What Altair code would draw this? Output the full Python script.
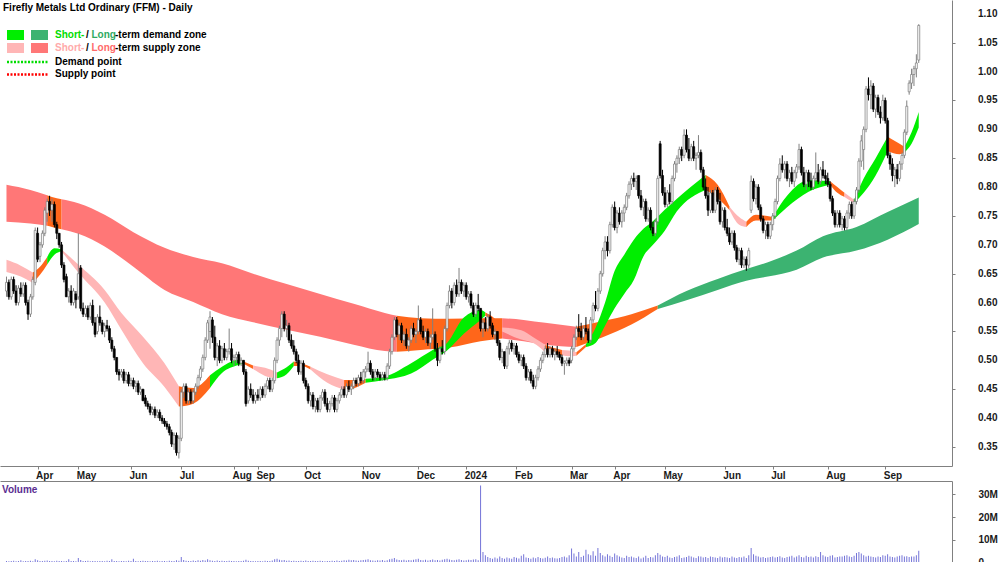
import altair as alt
import pandas as pd

# ---------------- price bars (cents) ----------------
OPEN = [
    62, 63.5, 61, 64, 62, 60, 62.5, 61.5, 63, 60,
    58, 61, 63.5, 72, 68, 70, 72, 75.5, 77.5, 76,
    77, 73.5, 72, 70, 66.5, 64.5, 61, 62, 60, 61.5,
    61, 66, 59, 58, 59, 57.5, 59.5, 56.5, 55, 57.5,
    56.5, 55, 56, 55.5, 53.5, 52, 50.5, 48, 47.5, 48,
    46.5, 47.5, 46, 46.5, 45.5, 46, 44.5, 45, 43.5, 42.5,
    42, 41, 41.5, 40.5, 41, 40, 39.5, 39, 38.5, 37.5,
    35.5, 37, 34, 36.5, 44.5, 45.5, 43, 44.5, 43, 44.5,
    45.5, 47, 48.5, 50.5, 53.5, 55, 57, 54, 50.5, 52.5,
    50, 52, 50.5, 51.5, 52, 50, 50.5, 51, 49.5, 50,
    48, 43, 45, 44, 43, 44, 43.5, 45, 44, 45.5,
    46.5, 45, 46.5, 50, 53.5, 55.5, 58, 55.5, 56, 53.5,
    52.5, 51.5, 50, 48, 49.5, 46.5, 45.5, 43, 44, 42,
    43, 41.5, 43.5, 44.5, 42.5, 41.5, 42.5, 43.5, 41.5, 43,
    44, 45, 44, 45.5, 45, 45.5, 46.5, 46, 47, 46.5,
    48, 48.5, 49.5, 48, 47, 48, 47.5, 47, 47.5, 47,
    49, 51.5, 54, 57, 54.5, 56, 53.5, 54.5, 52.5, 53.5,
    55.5, 54.5, 55, 57, 55, 54, 55, 53, 54, 54.5,
    52, 50, 52, 51.5, 55.5, 59.5, 62, 60, 63, 61.5,
    63.5, 62, 63, 61, 61.5, 59.5, 58, 59.5, 59, 55.5,
    56.5, 55.5, 57.5, 56, 54.5, 55, 53, 50.5, 51.5, 49,
    52, 53, 52, 52.5, 51, 50, 50.5, 49, 47, 48,
    46.5, 45.5, 47, 48.5, 50, 51, 52, 51, 52, 51,
    51.5, 51, 50.5, 49.5, 49.5, 50, 50, 52, 54, 55.5,
    55, 54, 55.5, 55, 53.5, 57, 59.5, 59, 62, 65,
    69, 70.5, 69, 73.5, 76.5, 73, 75.5, 74, 75.5, 76.5,
    78.5, 80.5, 81.5, 81, 82, 78.5, 76.5, 77.5, 74.5, 76,
    73, 72, 74, 87.5, 82, 79, 77, 79, 77.5, 81.5,
    84, 85, 86.5, 85.5, 89, 86.5, 85, 87, 85, 85.5,
    86, 83, 80, 78.5, 76, 79, 76, 79.5, 77.5, 74,
    76, 73, 72, 70.5, 72, 69.5, 67.5, 69, 66.5, 67.5,
    66.5, 76, 81, 78, 80, 76.5, 74.5, 72.5, 73.5, 71.5,
    73.5, 75, 77.5, 81.5, 84, 83, 84, 81.5, 82.5, 81,
    82.5, 83.5, 86.5, 82.5, 80.5, 82.5, 81, 80, 81.5, 82.5,
    81, 83, 82, 81.5, 80.5, 78, 75.5, 73.5, 75.5, 73.5,
    74.5, 73, 75.5, 77, 75, 77.5, 79.5, 84.5, 86.5, 90,
    97, 96, 97.5, 93.5, 95.5, 93, 92, 95, 91.5, 85.5,
    84, 82, 83, 81.5, 84, 85.5, 89.5, 96.5, 98, 99.5,
    100.5, 102,
]
HIGH = [
    64.5, 64, 64.5, 64.5, 63, 63, 63.5, 63.5, 63.5, 60.5,
    61.5, 64.5, 73, 73, 70.5, 72.5, 76.5, 78, 78.5, 78,
    77.5, 74, 72, 70.5, 67, 65, 62.5, 63, 62.5, 62,
    72, 66.5, 60, 59.5, 59.5, 60, 60.5, 57.5, 58, 59.5,
    57, 56.5, 57, 56, 54, 52.5, 50.5, 48.5, 48.5, 48.5,
    48, 48, 47, 47, 46.5, 46.5, 45.5, 45, 44, 43,
    42.5, 42, 42, 41.5, 41.5, 40.5, 40, 39.5, 39, 38,
    37.5, 37.5, 37, 45, 46, 46, 45, 45, 45, 46,
    47.5, 49, 51, 54, 57, 58.5, 57.5, 56, 53, 53.5,
    52.5, 53, 52, 55.5, 53, 51, 51.5, 51.5, 50.5, 50,
    48.5, 45.5, 46, 45, 44.5, 45, 45.5, 45.5, 46, 47,
    47, 47, 50.5, 54, 56, 58.5, 58.5, 57, 56.5, 54.5,
    53.5, 52, 51, 50, 50, 47, 46, 44.5, 44.5, 43.5,
    43.5, 44, 45, 45, 43.5, 43, 44, 44, 43.5, 44.5,
    45.5, 45.5, 46, 46.5, 46, 47, 47, 47.5, 48, 48.5,
    49, 51.5, 50, 48.5, 48.5, 48.5, 48, 48, 48, 49.5,
    52, 54.5, 57.5, 57.5, 56.5, 56.5, 55, 55.5, 54, 56,
    56.5, 55.5, 59.5, 57.5, 56, 55.5, 55.5, 54.5, 59, 55,
    53, 52.5, 53.5, 56, 60, 63, 62.5, 63.5, 64, 66,
    64, 63.5, 63.5, 62, 62, 60, 60, 61.5, 59, 57,
    57.5, 58, 58.5, 56.5, 55.5, 55, 53.5, 52, 51.5, 52.5,
    53.5, 53.5, 53, 53, 51.5, 51, 51, 49.5, 48.5, 48.5,
    47.5, 47.5, 49, 50.5, 51.5, 52.5, 53, 52.5, 52.5, 52,
    52.5, 51.5, 51, 50, 50.5, 50.5, 52.5, 54.5, 56, 58,
    56.5, 56, 57.5, 55.5, 57.5, 60, 62, 62.5, 65.5, 69.5,
    71.5, 71.5, 74, 77, 77.5, 76, 76.5, 76, 77, 79,
    81, 82, 82.5, 82, 82, 79.5, 78, 78, 76.5, 76.5,
    74, 74.5, 82, 88, 83, 80, 79.5, 80.5, 82, 84.5,
    85.5, 87, 87, 90, 90, 88.5, 87.5, 88, 86, 89,
    86.5, 83.5, 81.5, 80, 79.5, 79.5, 80, 80, 79, 76.5,
    76.5, 74.5, 73, 72.5, 72.5, 70, 69.5, 69.5, 68, 68,
    69.5, 82, 81.5, 80.5, 80.5, 77, 75, 74, 74, 74,
    75.5, 78, 82, 85, 85.5, 84.5, 84.5, 83, 83.5, 83,
    84, 87.5, 87, 83.5, 83, 83, 82.5, 82, 86, 84,
    83.5, 84.5, 83, 82.5, 81, 78.5, 76, 76, 76, 75,
    75, 76, 77.5, 77.5, 78, 80, 85, 89, 90.5, 97.5,
    99, 98.5, 98, 96, 96, 94, 96, 95.5, 92, 86,
    85, 83.5, 84, 84.5, 86, 90, 95, 98.5, 100.5, 101,
    103, 108.2,
]
LOW = [
    61, 60.5, 60.5, 61.5, 59.5, 59.5, 61, 61, 59.5, 57,
    57.5, 60.5, 63, 67, 67, 69.5, 71.5, 74, 75, 74,
    73, 71, 69.5, 66, 63.5, 61, 60, 59.5, 59.5, 59,
    60.5, 58.5, 57.5, 57.5, 57, 57, 56, 54, 54.5, 56,
    54.5, 54, 55, 53, 51.5, 50, 47.5, 46.5, 47, 46,
    46, 45.5, 45.5, 45, 44.5, 44, 44, 43, 42, 41.5,
    40.5, 40.5, 40, 40, 39.5, 39, 38.5, 38, 37, 35,
    34.5, 33.5, 33, 36, 43.5, 42.5, 42.5, 42.5, 42.5, 44,
    45, 46.5, 48, 50, 53, 52, 53, 50, 49, 49.5,
    49.5, 50, 50, 51, 49.5, 49, 49.5, 49, 49, 47.5,
    42, 42.5, 43.5, 42.5, 42.5, 43, 43, 43.5, 43.5, 45,
    44.5, 44.5, 46, 49.5, 52.5, 54, 55, 54, 53, 52,
    51, 49.5, 47.5, 47.5, 46, 45, 42.5, 42, 41.5, 41,
    41, 41, 43, 42, 41, 41, 42, 41, 41, 42.5,
    43.5, 43.5, 43.5, 44.5, 44, 45, 45.5, 45.5, 46, 46,
    47, 48, 47.5, 46.5, 46.5, 47, 46.5, 46.5, 46.5, 46.5,
    48.5, 51, 53.5, 54, 53.5, 53, 52.5, 52, 51.5, 53,
    54, 53, 54.5, 54.5, 53.5, 53, 52.5, 52, 53.5, 51.5,
    49, 49.5, 51, 51, 55, 59, 59, 59.5, 61, 61,
    61.5, 61, 60.5, 60, 59, 57.5, 57.5, 58.5, 55, 54,
    55, 55, 55.5, 54, 53.5, 52.5, 50, 49.5, 48.5, 48.5,
    51, 51.5, 51, 50.5, 49.5, 49, 48.5, 46.5, 46.5, 46,
    45, 45, 46.5, 48, 49.5, 50.5, 50.5, 50.5, 50.5, 50,
    50.5, 50, 49, 47.5, 49, 49, 49.5, 51.5, 53.5, 54,
    53.5, 53.5, 54.5, 53, 53, 56.5, 58.5, 58.5, 61.5, 64.5,
    67.5, 68, 68.5, 73, 72.5, 72, 73.5, 73, 74, 76,
    78, 79.5, 80, 79.5, 78, 76, 75, 74, 74, 72.5,
    71.5, 71.5, 73.5, 81.5, 78.5, 76.5, 76.5, 77, 77, 81,
    82.5, 84, 84.5, 85, 86, 84.5, 84.5, 84.5, 83, 85,
    82.5, 79.5, 78, 75, 75.5, 75.5, 75.5, 77, 73.5, 73,
    72.5, 71.5, 70, 70, 69, 67, 66.5, 66, 66, 65.5,
    66, 75.5, 77.5, 77, 76, 74, 72, 71, 71, 71,
    72.5, 74.5, 77, 81, 82.5, 81.5, 81, 80, 80.5, 80,
    81.5, 83, 82, 80, 79.5, 80, 79.5, 79.5, 81, 80.5,
    80.5, 81.5, 80.5, 80, 77.5, 75, 73, 73, 73, 72.5,
    72.5, 72.5, 74.5, 74.5, 74.5, 77, 79, 83.5, 83, 89.5,
    95, 93.5, 93, 92, 92.5, 91, 91.5, 91, 85, 83,
    81, 80, 80.5, 81, 83, 85, 89, 96, 97, 97.5,
    99, 101.5,
]
CLOSE = [
    63.5, 61, 64, 62, 60, 62.5, 61.5, 63, 60, 58,
    61, 64, 72.5, 67.5, 70, 72, 76, 77.5, 76, 77,
    73.5, 72, 70, 66.5, 64, 61, 62, 60, 62, 60.5,
    65, 59, 58, 59, 57.5, 59.5, 56.5, 54.5, 57.5, 56.5,
    55, 56, 55.5, 53.5, 52, 50.5, 48, 47.5, 48, 46.5,
    47.5, 46, 46.5, 45.5, 46, 44.5, 45, 43, 42.5, 42,
    41, 41.5, 40.5, 41, 40, 39.5, 39, 38.5, 37.5, 35.5,
    37, 34, 36.5, 44.5, 45.5, 43, 44.5, 43, 44.5, 45.5,
    47, 48.5, 50.5, 53.5, 56.5, 57.5, 54, 50.5, 52.5, 50,
    52, 50.5, 51.5, 52, 50, 50.5, 51, 49.5, 50, 48,
    42.5, 45, 44, 43, 44, 43.5, 45, 44, 45.5, 46.5,
    45, 46.5, 50, 53.5, 55.5, 58, 55.5, 56, 53.5, 52.5,
    51.5, 50, 48, 49.5, 46.5, 45.5, 43, 44, 42, 43,
    41.5, 43.5, 44.5, 42.5, 41.5, 42.5, 43.5, 41.5, 43, 44,
    45, 44, 45.5, 45, 45.5, 46.5, 46, 47, 46.5, 48,
    48.5, 49.5, 48, 47, 48, 47.5, 47, 47.5, 47, 49,
    51.5, 54, 57, 54.5, 56, 53.5, 54.5, 52.5, 53.5, 55.5,
    54.5, 55, 57, 55, 54, 55, 53, 54, 54.5, 52,
    50, 52, 51.5, 55.5, 59.5, 62, 60, 63, 61.5, 63.5,
    62, 63, 61, 61.5, 59.5, 58, 59.5, 59, 55.5, 56.5,
    55.5, 57.5, 56, 54.5, 55, 53, 50.5, 51.5, 49, 52,
    53, 52, 52.5, 51, 50, 50.5, 49, 47, 48, 46.5,
    45.5, 47, 48.5, 50, 51, 52, 51, 52, 51, 51.5,
    51, 50.5, 49.5, 49.8, 50, 49.5, 52, 54, 55.5, 55,
    54, 55.5, 55, 53.5, 57, 59.5, 59, 62, 65, 69,
    70.5, 69, 73.5, 76.5, 73, 75.5, 74, 75.5, 76.5, 78.5,
    80.5, 81.5, 81, 81.5, 78.5, 76.5, 77.5, 74.5, 76, 73,
    72, 74, 81.5, 82, 79, 77, 79, 77.5, 81.5, 84,
    85, 86.5, 85.5, 89, 86.5, 85, 87, 85, 85.5, 86,
    83, 80, 78.5, 76, 79, 76, 79.5, 77.5, 74, 76,
    73, 72, 70.5, 72, 69.5, 67.5, 69, 66.5, 67.5, 66.5,
    69, 81, 78, 80, 76.5, 74.5, 72.5, 73.5, 71.5, 73.5,
    75, 77.5, 81.5, 84, 83, 84, 81.5, 82.5, 81, 82.5,
    83.5, 86.5, 82.5, 80.5, 82.5, 81, 80, 81.5, 82.5, 81,
    83, 82, 81.5, 80.5, 78, 75.5, 73.5, 75.5, 73.5, 74.5,
    73, 75.5, 77, 75, 77.5, 79.5, 84.5, 88, 90, 97,
    96, 97.5, 93.5, 95.5, 93, 92, 95, 91.5, 85.5, 84,
    82, 83, 81.5, 84, 85.5, 89.5, 94, 98, 99.5, 100.5,
    101.5, 108,
]
# volume, in units of 100,000 shares
VOLUME = [
    5, 3, 4, 6, 3, 4, 8, 3, 5, 4, 6, 3, 12, 8, 5, 4, 6, 7, 5, 4,
    3, 6, 4, 5, 3, 4, 12, 5, 4, 3, 18, 9, 5, 4, 6, 3, 5, 4, 3, 5,
    4, 3, 6, 4, 12, 5, 4, 3, 5, 4, 3, 6, 4, 15, 5, 3, 4, 6, 5, 4,
    3, 5, 4, 6, 3, 4, 5, 3, 6, 4, 5, 8, 6, 22, 9, 6, 5, 4, 7, 5,
    8, 6, 9, 7, 12, 8, 6, 5, 7, 4, 6, 5, 4, 6, 5, 4, 3, 5, 4, 6,
    10, 6, 5, 4, 3, 4, 5, 3, 6, 4, 5, 7, 12, 15, 10, 8, 9, 6, 7, 5,
    6, 5, 4, 6, 5, 7, 4, 5, 6, 4, 5, 6, 4, 3, 5, 4, 6, 5, 7, 4,
    6, 8, 7, 10, 8, 9, 7, 6, 8, 9, 10, 12, 8, 7, 6, 8, 7, 9, 6, 8,
    12, 15, 18, 11, 9, 8, 10, 7, 9, 8, 10, 12, 14, 9, 8, 10, 7, 9, 11, 8,
    9, 7, 10, 12, 14, 11, 9, 8, 10, 12, 9, 7, 8, 10, 9, 11, 12, 8, 340, 45,
    30, 22, 18, 15, 20, 16, 25, 18, 14, 20, 17, 15, 22, 19, 16, 28, 35, 20, 18, 15,
    20, 17, 22, 18, 16, 19, 25, 18, 20, 17, 16, 18, 22, 24, 20, 30, 60, 38, 25, 45,
    22, 28, 55, 35, 30, 48, 28, 62, 40, 30, 25, 35, 28, 22, 38, 30, 25, 20, 18, 28,
    22, 25, 20, 18, 24, 16, 20, 28, 18, 22, 20, 30, 40, 32, 25, 22, 28, 20, 18, 22,
    25, 30, 18, 20, 22, 28, 24, 20, 18, 26, 25, 20, 22, 18, 25, 22, 20, 18, 24, 20,
    22, 20, 18, 25, 20, 18, 22, 20, 25, 18, 30, 62, 35, 28, 24, 20, 22, 18, 20, 22,
    25, 20, 22, 26, 20, 18, 22, 24, 28, 20, 25, 30, 22, 20, 28, 22, 24, 20, 26, 22,
    45, 30, 25, 22, 28, 30, 20, 22, 25, 24, 28, 30, 25, 22, 28, 40, 45, 38, 30, 25,
    28, 24, 22, 20, 25, 22, 30, 28, 35, 24, 22, 20, 25, 28, 30, 24, 26, 22, 25, 24, 30, 50,
]

# ---------------- zones (bar index, upper, lower) ----------------
LT_IDX = [0, 10, 17, 19, 23, 30, 41, 53, 66, 78, 90, 103, 117, 131, 145, 158, 163, 173,
          185, 198, 207, 216, 225, 238, 249, 261, 272, 284, 297, 309, 318, 330, 341, 355, 368, 381]
LT_UP = [0.804, 0.795, 0.786, 0.783, 0.779, 0.772, 0.752, 0.722, 0.695, 0.679, 0.668, 0.650,
         0.632, 0.615, 0.598, 0.582, 0.577, 0.573, 0.572, 0.573, 0.573, 0.570, 0.565, 0.558,
         0.568, 0.580, 0.595, 0.620, 0.641, 0.658, 0.670, 0.690, 0.715, 0.731, 0.757, 0.782]
LT_LO = [0.740, 0.737, 0.733, 0.731, 0.727, 0.719, 0.697, 0.662, 0.622, 0.601, 0.580, 0.566,
         0.553, 0.541, 0.527, 0.516, 0.515, 0.518, 0.522, 0.533, 0.538, 0.533, 0.527, 0.523,
         0.540, 0.562, 0.589, 0.604, 0.622, 0.638, 0.645, 0.657, 0.678, 0.690, 0.709, 0.736]
LT_SEGS = [(0, 17, "ls"), (17, 23, "tr"), (23, 163, "ls"), (163, 207, "tr"),
           (207, 238, "ls"), (238, 272, "tr"), (272, 381, "ld")]

ST_IDX = [0, 6, 11, 14, 17, 20, 23, 30, 41, 48, 57, 66, 72, 78, 85, 90, 97, 99, 103, 108,
          113, 117, 120, 123, 127, 134, 141, 146, 150, 158, 169, 178, 184, 191, 198, 200,
          204, 207, 215, 220, 225, 228, 232, 235, 238, 242, 246, 250, 254, 258, 262, 266,
          270, 275, 280, 292, 297, 302, 306, 309, 313, 320, 326, 335, 344, 347, 350, 354,
          358, 363, 368, 373, 375, 378, 381]
ST_UP = [0.674, 0.664, 0.652, 0.662, 0.679, 0.694, 0.692, 0.666, 0.622, 0.582, 0.541, 0.495,
         0.455, 0.452, 0.474, 0.489, 0.501, 0.498, 0.491, 0.487, 0.479, 0.488, 0.498, 0.495,
         0.489, 0.476, 0.466, 0.466, 0.468, 0.472, 0.495, 0.518, 0.530, 0.574, 0.587, 0.583,
         0.572, 0.557, 0.552, 0.540, 0.527, 0.522, 0.518, 0.517, 0.514, 0.528, 0.556, 0.600,
         0.655, 0.683, 0.709, 0.728, 0.741, 0.761, 0.780, 0.821, 0.804, 0.766, 0.748, 0.740,
         0.752, 0.748, 0.785, 0.812, 0.810, 0.800, 0.790, 0.778, 0.815, 0.850, 0.887, 0.875,
         0.870, 0.895, 0.930]
ST_LO = [0.653, 0.645, 0.634, 0.648, 0.666, 0.683, 0.689, 0.652, 0.600, 0.553, 0.495, 0.454,
         0.420, 0.425, 0.452, 0.478, 0.492, 0.494, 0.485, 0.473, 0.469, 0.476, 0.490, 0.490,
         0.484, 0.461, 0.449, 0.453, 0.461, 0.466, 0.477, 0.501, 0.517, 0.546, 0.570, 0.577,
         0.563, 0.550, 0.536, 0.530, 0.514, 0.513, 0.509, 0.507, 0.508, 0.523, 0.530, 0.560,
         0.590, 0.615, 0.639, 0.680, 0.700, 0.725, 0.758, 0.795, 0.781, 0.760, 0.735, 0.731,
         0.742, 0.742, 0.765, 0.792, 0.804, 0.790, 0.783, 0.772, 0.790, 0.820, 0.862, 0.857,
         0.860, 0.875, 0.903]
ST_SEGS = [(0, 11, "ss"), (11, 17, "tr"), (17, 23, "sd"), (23, 72, "ss"), (72, 85, "tr"),
           (85, 99, "sd"), (99, 103, "tr"), (103, 113, "ss"), (113, 120, "sd"), (120, 127, "tr"),
           (127, 141, "ss"), (141, 150, "tr"), (150, 200, "sd"), (200, 207, "tr"),
           (207, 225, "ss"), (225, 232, "tr"), (232, 238, "ss"), (238, 242, "tr"),
           (242, 292, "sd"), (292, 302, "tr"), (302, 309, "ss"), (309, 320, "tr"),
           (320, 344, "sd"), (344, 350, "tr"), (350, 354, "ss"), (354, 368, "sd"),
           (368, 375, "tr"), (375, 381, "sd")]

MONTH_TICKS = [13, 30, 52, 73, 95, 105, 125, 149, 172, 192, 213, 236, 254, 275, 300, 320, 343, 367]
MONTH_NAMES = ["Apr", "May", "Jun", "Jul", "Aug", "Sep", "Oct", "Nov", "Dec", "2024",
               "Feb", "Mar", "Apr", "May", "Jun", "Jul", "Aug", "Sep"]
PRICE_TICKS = [0.35, 0.40, 0.45, 0.50, 0.55, 0.60, 0.65, 0.70, 0.75, 0.80, 0.85, 0.90,
               0.95, 1.00, 1.05, 1.10]
VOL_TICKS = [0, 10_000_000, 20_000_000, 30_000_000]

TITLE = "Firefly Metals Ltd Ordinary (FFM) - Daily"

# ---------------- build ----------------
for name, arr in [("OPEN", OPEN), ("HIGH", HIGH), ("LOW", LOW), ("VOLUME", VOLUME)]:
    if len(arr) != len(CLOSE):
        raise SystemExit(f"{name} has {len(arr)} values, CLOSE has {len(CLOSE)}")

FONT = "Liberation Sans"
W, H_PRICE, H_VOL = 952, 466, 81
X_SCALE = alt.Scale(domain=[-0.62, 392.8], nice=False, zero=False)
P_SCALE = alt.Scale(domain=[0.317, 1.124], nice=False, zero=False)
V_SCALE = alt.Scale(domain=[0, 36_000_000], nice=False)

COL = {"sd": "#00ee00", "ld": "#3cb371", "ss": "#ffb6b6", "ls": "#ff7777", "tr": "#ff661a"}

bars = pd.DataFrame({
    "i": list(range(len(CLOSE))),
    "o": [v / 100 for v in OPEN],
    "h": [v / 100 for v in HIGH],
    "l": [v / 100 for v in LOW],
    "c": [v / 100 for v in CLOSE],
    "v": [v * 100_000 for v in VOLUME],
})
bars["dir"] = ["up" if c >= o else "down" for o, c in zip(bars["o"], bars["c"])]

month_expr = "".join(f"datum.value == {t} ? '{n}' : " for t, n in zip(MONTH_TICKS, MONTH_NAMES)) + "''"

AX_TXT = dict(labelFont=FONT, labelFontSize=10, labelFontWeight="bold", labelColor="#1a1a1a",
              domainColor="#808080", tickColor="#808080", grid=False)

x_price = alt.X("i:Q", scale=X_SCALE, title=None,
                axis=alt.Axis(values=MONTH_TICKS, labelExpr=month_expr, tickSize=3, labelPadding=1,
                              labelAlign="left", labelOffset=-2, labelOverlap=False,
                              labelFlush=False, labelBound=False, **AX_TXT))
# axis line and ticks only; the tick labels are drawn as text marks below
y_price = alt.Y("c:Q", scale=P_SCALE, title=None,
                axis=alt.Axis(orient="right", values=PRICE_TICKS, tickSize=3, labels=False,
                              domainColor="#808080", tickColor="#808080", grid=False))
X_PLAIN = alt.X("i:Q", scale=X_SCALE, title=None)


def band_layers(idx, up, lo, segs):
    layers = []
    for a, b, kind in segs:
        pts = [(i, u, l) for i, u, l in zip(idx, up, lo) if a <= i <= b]
        df = pd.DataFrame(pts, columns=["i", "top", "bot"])
        layers.append(
            alt.Chart(df).mark_area(orient="vertical", interpolate="monotone", color=COL[kind],
                                    clip=True).encode(
                x=X_PLAIN,
                y=alt.Y("top:Q", scale=P_SCALE, stack=None, title=None),
                y2="bot:Q",
            ))
    return layers


# anchor layer that carries the axes (closing prices, invisible)
anchor = alt.Chart(bars).mark_point(opacity=0, size=1).encode(x=x_price, y=y_price)

wick = alt.Chart(bars).mark_rule(strokeWidth=1, clip=True).encode(
    x=X_PLAIN,
    y=alt.Y("l:Q", scale=P_SCALE, title=None),
    y2="h:Q",
    color=alt.Color("dir:N", scale=alt.Scale(domain=["up", "down"], range=["#808080", "#000000"]), legend=None),
)
body = alt.Chart(bars).mark_bar(size=2, strokeWidth=0.7, clip=True).encode(
    x=X_PLAIN,
    y=alt.Y("o:Q", scale=P_SCALE, title=None),
    y2="c:Q",
    fill=alt.Fill("dir:N", scale=alt.Scale(domain=["up", "down"], range=["#ffffff", "#000000"]), legend=None),
    stroke=alt.Stroke("dir:N", scale=alt.Scale(domain=["up", "down"], range=["#777777", "#000000"]), legend=None),
)

tick_labels = alt.Chart(pd.DataFrame({"t": PRICE_TICKS})).mark_text(
    align="left", baseline="middle", font=FONT, fontSize=10, fontWeight="bold", color="#1a1a1a",
).encode(
    x=alt.value(W + 26),
    y=alt.Y("t:Q", scale=P_SCALE, title=None),
    text=alt.Text("t:Q", format=".2f"),
)

one = pd.DataFrame({"k": [0]})


def label(text, x, y, color="#000000", size=10):
    return alt.Chart(one).mark_text(text=text, align="left", baseline="alphabetic", font=FONT,
                                    fontSize=size, fontWeight="bold", color=color).encode(
        x=alt.value(x), y=alt.value(y))


def swatch(x0, x1, y0, y1, color):
    return alt.Chart(one).mark_rect(color=color).encode(
        x=alt.value(x0), x2=alt.value(x1), y=alt.value(y0), y2=alt.value(y1))


def dotted(y, color):
    return alt.Chart(one).mark_rule(color=color, strokeWidth=2.5, strokeDash=[2, 1.5]).encode(
        x=alt.value(7), x2=alt.value(48), y=alt.value(y))


legend_layers = [
    label(TITLE, 3, 11),
    swatch(7, 24, 30, 40, COL["sd"]), swatch(31, 48, 30, 40, COL["ld"]),
    swatch(7, 24, 43, 53, COL["ss"]), swatch(31, 48, 43, 53, COL["ls"]),
    dotted(62, "#00dd00"), dotted(74.5, "#ff0000"),
    label("Short-", 55, 38, "#00dd00"), label("/", 86, 38), label("Long", 91.5, 38, "#2eaa62"),
    label("-term demand zone", 115, 38),
    label("Short-", 55, 51, "#ffaaaa"), label("/", 86, 51), label("Long", 91.5, 51, "#ff6a6a"),
    label("-term supply zone", 115, 51),
    label("Demand point", 55, 64.5),
    label("Supply point", 55, 77),
]

price = alt.layer(
    anchor,
    *band_layers(LT_IDX, LT_UP, LT_LO, LT_SEGS),
    *band_layers(ST_IDX, ST_UP, ST_LO, ST_SEGS),
    wick, body, tick_labels, *legend_layers,
).properties(width=W, height=H_PRICE)

vol_bars = alt.Chart(bars).mark_bar(size=1, color="#7474d8", clip=True).encode(
    x=alt.X("i:Q", scale=X_SCALE, title=None,
            axis=alt.Axis(orient="top", labels=False, ticks=False, grid=False, domainColor="#808080")),
    y=alt.Y("v:Q", scale=V_SCALE, title=None,
            axis=alt.Axis(orient="right", values=VOL_TICKS, tickSize=3, labelPadding=23,
                          labelOverlap=False,
                          labelExpr="datum.value == 0 ? '0' : format(datum.value / 1000000, 'd') + 'M'",
                          **AX_TXT)),
)
volume = alt.layer(vol_bars, label("Volume", 2, 12, "#5a2d91")).properties(width=W, height=H_VOL)

chart = alt.vconcat(price, volume, spacing=1).properties(
    padding={"left": 0, "top": 0, "right": 0, "bottom": 0},
    background="#ffffff",
).configure_view(stroke=None)

chart.save("out.html", embed_options={"renderer": "svg", "actions": False})
